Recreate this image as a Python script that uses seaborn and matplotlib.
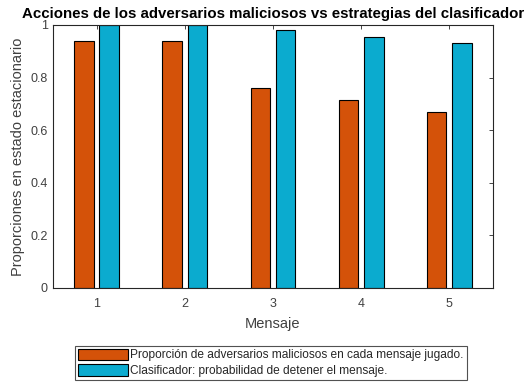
import pandas as pd
import matplotlib
matplotlib.use("Agg")
import matplotlib.pyplot as plt
import seaborn as sns

mensajes = [1, 2, 3, 4, 5]
adversarios = [0.940, 0.940, 0.762, 0.715, 0.669]
clasificador = [1.0, 1.0, 0.981, 0.956, 0.932]
serie_labels = ["Proporción de adversarios maliciosos en cada mensaje jugado.",
                "Clasificador: probabilidad de detener el mensaje."]
y_ticks = [0, 0.2, 0.4, 0.6, 0.8, 1]
y_ticklabels = ["0", "0.2", "0.4", "0.6", "0.8", "1"]

ORANGE = "#D45209"
BLUE = "#0BABCF"

df = pd.DataFrame({
    "Mensaje": mensajes * 2,
    "valor": adversarios + clasificador,
    "serie": [serie_labels[0]] * 5 + [serie_labels[1]] * 5,
})

sns.set_style("white")
plt.rcParams['font.family'] = ['Liberation Sans', 'DejaVu Sans']

fig = plt.figure(figsize=(5.28, 3.84), dpi=100)
ax = fig.add_axes([0.100, 0.25, 0.834, 0.685])

sns.barplot(data=df, x="Mensaje", y="valor", hue="serie",
            palette=[ORANGE, BLUE], width=0.57, gap=0.21,
            edgecolor="black", linewidth=0.8, saturation=1, ax=ax)

ax.set_xlim(-0.5, 4.5)
ax.set_ylim(0, 1)
ax.set_yticks(y_ticks)
ax.set_yticklabels(y_ticklabels)
ax.set_xticks(range(len(mensajes)))
ax.set_xticklabels([str(m) for m in mensajes])

for s in ax.spines.values():
    s.set_color("#262626")
    s.set_linewidth(0.8)
    s.set_visible(True)
ax.tick_params(direction="in", length=3, width=0.6, colors="#262626",
               labelsize=9, top=True, right=True, labelcolor="#404040")
ax.tick_params(axis="x", pad=7)

ax.set_xlabel("Mensaje", fontsize=10.5, color="#404040", labelpad=5)
ax.set_ylabel("Proporciones en estado estacionario", fontsize=10.5, color="#404040")
ax.set_title("Acciones de los adversarios maliciosos vs estrategias del clasificador",
             fontsize=10.8, fontweight="bold", color="black", pad=5)

ax.legend(loc="lower center", bbox_to_anchor=(0.513, 0.01), bbox_transform=fig.transFigure,
          borderaxespad=0, fontsize=8.6, frameon=True, fancybox=False, edgecolor="#262626",
          handlelength=4.2, handleheight=1.1, handletextpad=0.2, borderpad=0.25,
          labelspacing=0.25, title=None)
ax.get_legend().get_frame().set_linewidth(0.8)

plt.savefig("out.png", dpi=100)
